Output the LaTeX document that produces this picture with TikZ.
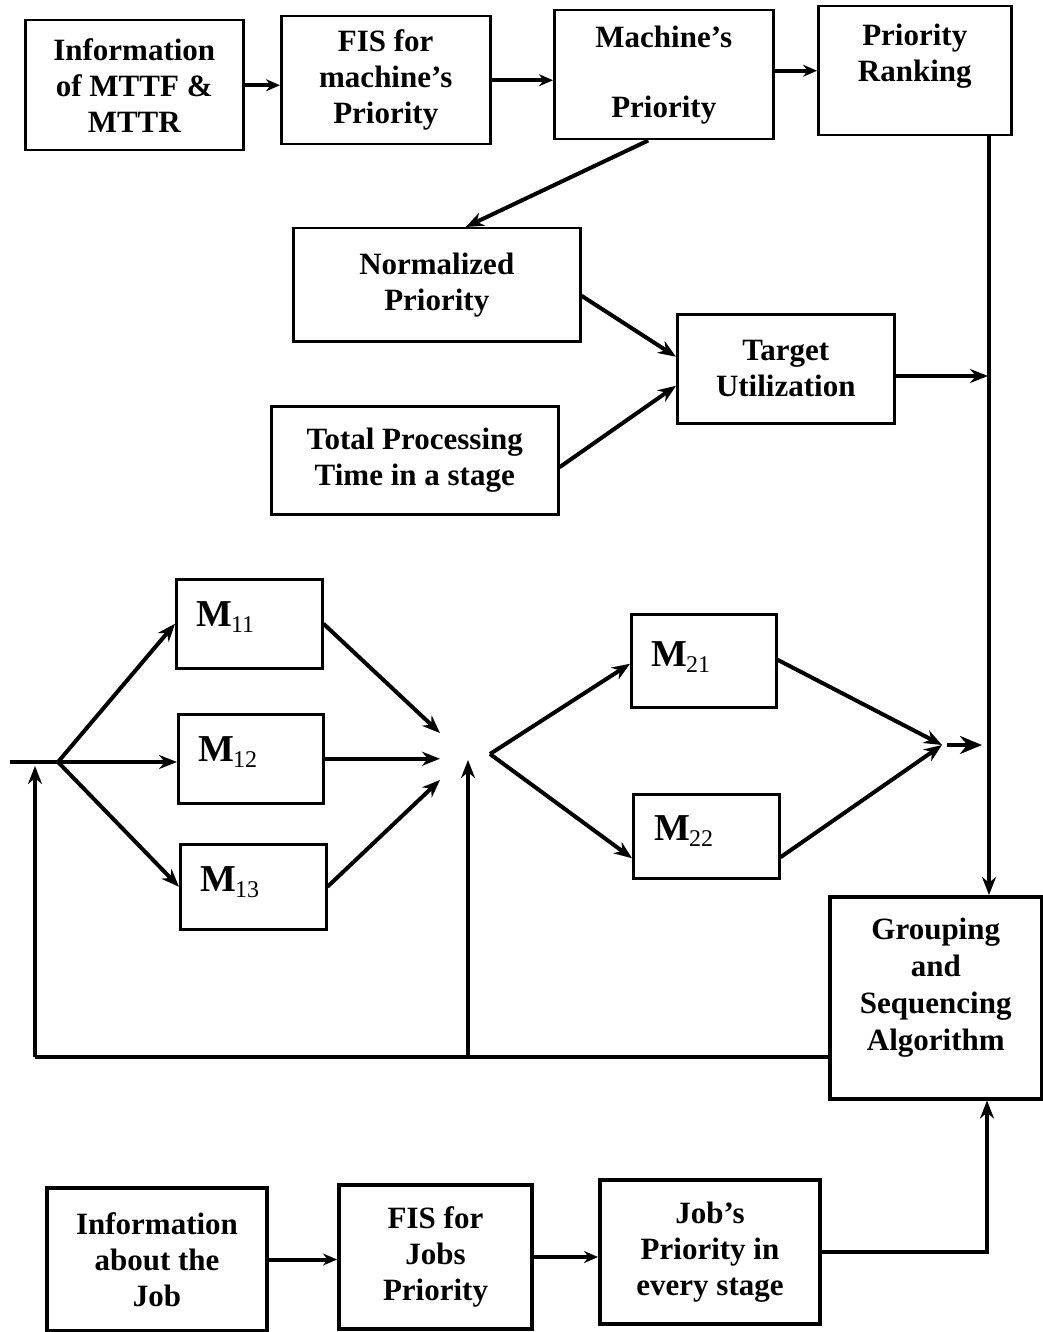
\documentclass[tikz,border=0pt]{standalone}
\usepackage{fontspec}
\setmainfont{Liberation Serif}
\usetikzlibrary{arrows.meta,calc}
\begin{document}
\begin{tikzpicture}[x=1pt,y=-1pt,
  box/.style={draw, line width=2.5pt, inner sep=0pt, anchor=north west,
    font=\bfseries\fontsize{31}{36}\selectfont, align=center},
  heavybox/.style={box, line width=4pt},
  mbox/.style={box, line width=2.5pt},
  mlabel/.style={anchor=west, inner sep=0pt},
  line/.style={line width=4pt},
  conn/.style={line width=4pt, -{Stealth[length=18pt,width=14pt]}},
  smallconn/.style={line width=4pt, -{Stealth[length=14pt,width=12pt]}},
  bigconn/.style={line width=4.5pt, -{Stealth[length=22pt,width=18pt]}},
]
\newcommand{\mname}[2]{{\bfseries\fontsize{38}{38}\selectfont M}\kern-1pt\raisebox{-6pt}{\fontsize{24}{24}\selectfont #1#2}}
\useasboundingbox (0,0) rectangle (1043,1332);

% machine information chain
\node[box, minimum width=218, minimum height=130] (info) at (24,19)
  {Information\\of MTTF \&\\MTTR};
\node[box, minimum width=209, minimum height=128] (fism) at (280,15)
  {FIS for\\machine’s\\Priority};
\node[box, minimum width=219, minimum height=129] (mach) at (553,9)
  {Machine’s\\[34pt]Priority};
\node[box, minimum width=193, minimum height=129] (rank) at (817,5) {};
\node[font=\bfseries\fontsize{31}{36}\selectfont, align=center, inner sep=0pt]
  (rankt) at ($(rank.center)+(0,-15)$) {Priority\\Ranking};

% target utilization
\node[box, minimum width=287, minimum height=113] (norm) at (292,227)
  {Normalized\\Priority};
\node[box, minimum width=217, minimum height=109] (targ) at (676,313)
  {Target\\Utilization};
\node[box, minimum width=287, minimum height=108] (total) at (270,405)
  {Total Processing\\Time in a stage};

% grouping and sequencing
\node[heavybox, line width=3.5pt, minimum width=212, minimum height=202] (group) at (828,895) {};
\node[font=\bfseries\fontsize{31}{37}\selectfont, align=center, inner sep=0pt]
  (groupt) at ($(group.center)+(0,-10)$) {Grouping\\and\\Sequencing\\Algorithm};

% stage machines
\node[mbox, minimum width=146, minimum height=89] (m11) at (175,578) {};
\node[mbox, minimum width=145, minimum height=89] (m12) at (177,713) {};
\node[mbox, minimum width=146, minimum height=85] (m13) at (179,843) {};
\node[mbox, minimum width=145, minimum height=93] (m21) at (630,613) {};
\node[mbox, minimum width=146, minimum height=84] (m22) at (632,793) {};
\node[mlabel] (m11t) at ($(m11.west)+(21,-7)$) {\mname11};
\node[mlabel] (m12t) at ($(m12.west)+(21,-7)$) {\mname12};
\node[mlabel] (m13t) at ($(m13.west)+(21,-5)$) {\mname13};
\node[mlabel] (m21t) at ($(m21.west)+(21,-4)$) {\mname21};
\node[mlabel] (m22t) at ($(m22.west)+(22,-5)$) {\mname22};

% job information chain
\node[heavybox, minimum width=220, minimum height=143] (jinfo) at (45,1186)
  {Information\\about the\\Job};
\node[heavybox, minimum width=193, minimum height=144] (fisj) at (337,1183)
  {FIS for\\Jobs\\Priority};
\node[heavybox, minimum width=220, minimum height=144] (jobp) at (598,1178)
  {Job’s\\Priority in\\every stage};

% junction points
\coordinate (inL) at (10,762);
\coordinate (sp1) at (58,762);
\coordinate (j1a) at (440,733);
\coordinate (j1b) at (440,757);
\coordinate (j1c) at (440,780);
\coordinate (sp2) at (490,754);
\coordinate (j2) at (942,745);
\coordinate (j2s) at (947,745);
\coordinate (j2e) at (982,745);
\coordinate (tgout) at (988,376);
\coordinate (vx) at (989,0);
\coordinate (vx2) at (987,0);
\coordinate (fbL) at (35,1057);
\coordinate (fbM) at (468,1057);
\coordinate (fbLtop) at (35,766);
\coordinate (fbMtop) at (468,760);

% top row
\draw[smallconn] (info.east) -- (info.east -| fism.west);
\draw[smallconn] (fism.east) -- (fism.east -| mach.west);
\draw[smallconn] (mach.east |- rank.west) -- (rank.west);
\draw[conn] ($(mach.south west)!0.43!(mach.south east)$) -- ($(norm.north west)!0.6!(norm.north east)$);
\draw[conn] ($(norm.east)+(0,11)$) -- ($(targ.west)+(0,-12)$);
\draw[conn] ($(total.east)+(0,7)$) -- ($(targ.west)+(0,17)$);
\draw[conn] (targ.east |- tgout) -- (tgout);
\draw[line width=3.5pt, -{Stealth[length=18pt,width=14pt]}] (rank.south -| vx) -- (group.north -| vx);

% first stage
\draw[line] (inL) -- (sp1);
\draw[conn] (sp1) -- (m11.west);
\draw[conn] (sp1) -- (sp1 -| m12.west);
\draw[conn] (sp1) -- (m13.west);
\draw[conn] (m11.east) -- (j1a);
\draw[conn] (m12.east) -- (m12.east -| j1b);
\draw[conn] (m13.east) -- (j1c);

% second stage
\draw[conn] (sp2) -- ($(m21.west)+(0,3)$);
\draw[conn] (sp2) -- ($(m22.west)+(0,22)$);
\draw[conn] ($(m21.east)+(0,-1)$) -- (j2);
\draw[conn] ($(m22.east)+(0,21)$) -- (j2);
\draw[bigconn] (j2s) -- (j2e);

% feedback loop
\draw[line] (group.west |- fbL) -- (fbL);
\draw[conn] (fbL) -- (fbLtop);
\draw[conn] (fbM) -- (fbMtop);

% bottom row
\draw[smallconn] (jinfo.east) -- (jinfo.east -| fisj.west);
\draw[smallconn] (fisj.east) -- (fisj.east -| jobp.west);
\draw[conn] (jobp.east) -- (jobp.east -| vx2) -- (group.south -| vx2);
\end{tikzpicture}
\end{document}
